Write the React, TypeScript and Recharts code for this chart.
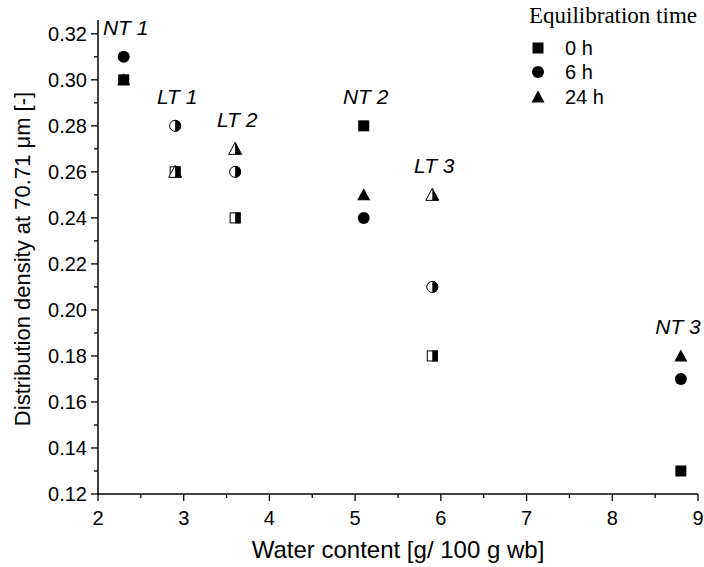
import React from 'react';
import { ScatterChart, Scatter, XAxis, YAxis } from 'recharts';

const waterContent = [2.3, 2.9, 3.6, 5.1, 5.9, 8.8];
const sampleLabels = ['NT 1', 'LT 1', 'LT 2', 'NT 2', 'LT 3', 'NT 3'];
const density0h = [0.30, 0.26, 0.24, 0.28, 0.18, 0.13];
const density6h = [0.31, 0.28, 0.26, 0.24, 0.21, 0.17];
const density24h = [0.30, 0.26, 0.27, 0.25, 0.25, 0.18];
const seriesNames = ['0 h', '6 h', '24 h'];
const xTicks = [2, 2.5, 3, 3.5, 4, 4.5, 5, 5.5, 6, 6.5, 7, 7.5, 8, 8.5, 9];
const yTicks = [0.12, 0.13, 0.14, 0.15, 0.16, 0.17, 0.18, 0.19, 0.2, 0.21, 0.22, 0.23, 0.24, 0.25, 0.26, 0.27, 0.28, 0.29, 0.3, 0.31, 0.32];

const SANS = '"Liberation Sans", Arial, sans-serif';
const SERIF = '"Liberation Serif", "Times New Roman", serif';
const CHART_W = 704;

const makeData = (vals: number[]) =>
  waterContent.map((x, i) => ({ x, y: vals[i], half: sampleLabels[i].startsWith('LT') }));

const data0 = makeData(density0h);
const data6 = makeData(density6h);
const data24 = makeData(density24h);
const labelData = waterContent.map((x, i) => ({
  x,
  y: Math.max(density0h[i], density6h[i], density24h[i]),
  label: sampleLabels[i],
}));

const Square = (p: any) => {
  const { cx, cy, payload } = p;
  const s = 5.5;
  if (payload && payload.half) {
    return (
      <g>
        <rect x={cx - s + 0.5} y={cy - s + 0.5} width={2 * s - 1} height={2 * s - 1} fill="#fff" stroke="#000" strokeWidth={1} />
        <rect x={cx} y={cy - s} width={s} height={2 * s} fill="#000" />
      </g>
    );
  }
  return <rect x={cx - s} y={cy - s} width={2 * s} height={2 * s} fill="#000" />;
};

const Circle = (p: any) => {
  const { cx, cy, payload } = p;
  const r = 6;
  if (payload && payload.half) {
    return (
      <g>
        <circle cx={cx} cy={cy} r={r - 0.5} fill="#fff" stroke="#000" strokeWidth={1} />
        <path d={`M${cx},${cy - r} A${r},${r} 0 0 1 ${cx},${cy + r} Z`} fill="#000" />
      </g>
    );
  }
  return <circle cx={cx} cy={cy} r={r} fill="#000" />;
};

const Triangle = (p: any) => {
  const { cx, cy, payload } = p;
  const top = cy - 6.5;
  const bot = cy + 5.5;
  const w = 6.5;
  if (payload && payload.half) {
    return (
      <g>
        <polygon points={`${cx},${top} ${cx - w},${bot} ${cx + w},${bot}`} fill="#fff" stroke="#000" strokeWidth={1} />
        <polygon points={`${cx},${top} ${cx + w},${bot} ${cx},${bot}`} fill="#000" />
      </g>
    );
  }
  return <polygon points={`${cx},${top} ${cx - w},${bot} ${cx + w},${bot}`} fill="#000" />;
};

const SampleLabel = (p: any) => {
  const { cx, cy, payload } = p;
  const x = Math.min(cx + 2, CHART_W - 26);
  return (
    <text x={x} y={cy - 21.5} textAnchor="middle" fontFamily={SANS} fontStyle="italic" fontSize={21} fill="#000">
      {payload.label}
    </text>
  );
};

const YTick = (p: any) => {
  const { x, y, payload } = p;
  const v = payload.value;
  const major = Math.round(v * 100) % 2 === 0;
  return (
    <g>
      <line x1={x} x2={x - (major ? 7 : 4)} y1={y} y2={y} stroke="#000" strokeWidth={1.3} />
      {major && (
        <text x={x - 11} y={y} dy={7} textAnchor="end" fontFamily={SANS} fontSize={20} fill="#000">
          {v.toFixed(2)}
        </text>
      )}
    </g>
  );
};

const XTick = (p: any) => {
  const { x, y, payload } = p;
  const v = payload.value;
  const major = Number.isInteger(v);
  return (
    <g>
      <line x1={x} x2={x} y1={y} y2={y + (major ? 7 : 4)} stroke="#000" strokeWidth={1.3} />
      {major && (
        <text x={x} y={y + 31} textAnchor="middle" fontFamily={SANS} fontSize={20} fill="#000">
          {String(v)}
        </text>
      )}
    </g>
  );
};

const legendShapes = [Square, Circle, Triangle];
const legendY = [48, 72, 97];

export default function App() {
  return (
    <div style={{ position: 'absolute', left: 0, top: 0, width: 704, height: 567, background: '#fff' }}>
      <ScatterChart width={CHART_W} height={567} margin={{ top: 20, right: 6, bottom: 0, left: 0 }}>
        <XAxis
          type="number"
          dataKey="x"
          domain={[2, 9]}
          ticks={xTicks}
          interval={0}
          height={73}
          tickSize={0}
          tickMargin={0}
          tick={<XTick />}
          axisLine={{ stroke: '#000', strokeWidth: 1.5 }}
        />
        <YAxis
          type="number"
          dataKey="y"
          domain={[0.12, 0.326]}
          ticks={yTicks}
          interval={0}
          width={98}
          tickSize={0}
          tickMargin={0}
          tick={<YTick />}
          axisLine={{ stroke: '#000', strokeWidth: 1.5 }}
        />
        <Scatter name={seriesNames[0]} data={data0} shape={<Square />} isAnimationActive={false} />
        <Scatter name={seriesNames[1]} data={data6} shape={<Circle />} isAnimationActive={false} />
        <Scatter name={seriesNames[2]} data={data24} shape={<Triangle />} isAnimationActive={false} />
        <Scatter name="labels" data={labelData} shape={<SampleLabel />} isAnimationActive={false} legendType="none" />
      </ScatterChart>
      <svg width={704} height={567} style={{ position: 'absolute', left: 0, top: 0, pointerEvents: 'none' }}>
        <text
          x={22}
          y={259}
          transform="rotate(-90 22 259)"
          textAnchor="middle"
          dominantBaseline="central"
          fontFamily={SANS}
          fontSize={22}
          fill="#000"
        >
          Distribution density at 70.71 μm [-]
        </text>
        <text x={398} y={558} textAnchor="middle" fontFamily={SANS} fontSize={24} fill="#000">
          Water content [g/ 100 g wb]
        </text>
        <text x={529} y={23} fontFamily={SERIF} fontSize={23} fill="#000">
          Equilibration time
        </text>
        {seriesNames.map((n, i) => {
          const Shape = legendShapes[i];
          return (
            <g key={n}>
              <Shape cx={538} cy={legendY[i]} payload={{ half: false }} />
              <text x={565} y={legendY[i] + 7} fontFamily={SANS} fontSize={20} fill="#000">
                {n}
              </text>
            </g>
          );
        })}
      </svg>
    </div>
  );
}
